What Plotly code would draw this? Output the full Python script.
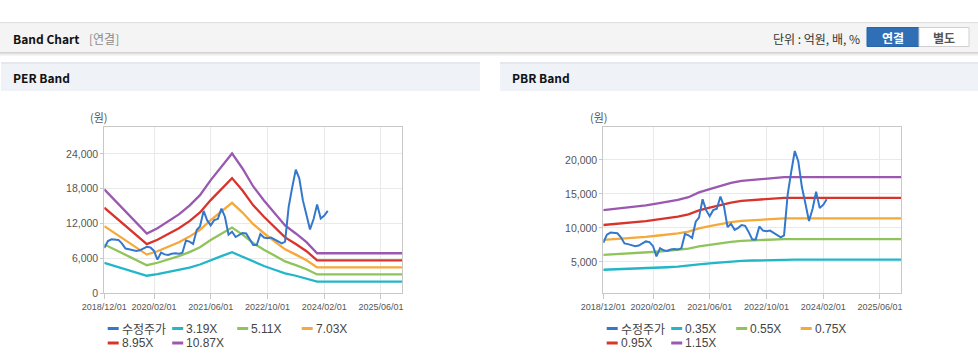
import plotly.graph_objects as go
import pandas as pd

W, H = 978, 361

# ---------------- data ----------------
price_name = "수정주가"
price = [7800, 9000, 9300, 9300, 9200, 8600, 7700, 7600, 7400, 7300, 7400, 7700,
         8000, 7900, 7300, 5800, 7000, 6700, 6600, 6800, 6900, 6800, 7000, 9100,
         8900, 8500, 10900, 11500, 14200, 12600, 11700, 12600, 12800, 14600, 13200, 10100,
         10600, 9700, 10000, 10400, 10300, 9400, 8300, 8300, 10200, 9600, 9500, 9600,
         9300, 8900, 8600, 8900, 14900, 18200, 21300, 19800, 16000, 13500, 11000, 12800,
         15300, 12900, 13400, 14200]
price_dates = pd.date_range("2018-12-01", periods=len(price), freq="MS")

# quarterly EPS (won) and BPS (won)
eps = [1647, 1472, 1297, 1122, 948, 1030, 1141, 1251, 1389, 1555, 1794, 2006, 2217,
       1978, 1693, 1472, 1270, 1076, 948, 810, 635, 635, 635, 635, 635, 635, 635, 635, 635]
bps = [10960, 11090, 11220, 11350, 11570, 11780, 12000, 12260, 12610, 13220, 13650,
       14090, 14430, 14700, 14830, 14960, 15130, 15170, 15170, 15170, 15170, 15170,
       15170, 15170, 15170, 15170, 15170, 15170, 15170]
band_dates = pd.date_range("2018-12-01", periods=len(eps), freq="3MS")

per_mult = [3.19, 5.11, 7.03, 8.95, 10.87]
pbr_mult = [0.35, 0.55, 0.75, 0.95, 1.15]

x_tick_dates = ["2018-12-01", "2020-02-01", "2021-06-01", "2022-10-01", "2024-02-01", "2025-06-01"]
x_tick_text = ["2018/12/01", "2020/02/01", "2021/06/01", "2022/10/01", "2024/02/01", "2025/06/01"]
per_yticks = [0, 6000, 12000, 18000, 24000]
pbr_yticks = [5000, 10000, 15000, 20000]

price_color = "#3478cc"
band_colors = ["#22b6c8", "#8fc45a", "#f5a93a", "#d8342c", "#9a58b0"]

FONT = "Noto Sans CJK KR"


def px(x):
    return x / W


def py(y):
    return 1 - y / H


fig = go.Figure()

# PER traces
for m, c in zip(per_mult, band_colors):
    fig.add_trace(go.Scatter(x=band_dates, y=[e * m for e in eps], mode="lines",
                             line=dict(color=c, width=2.3), name=f"{m:.2f}X",
                             xaxis="x", yaxis="y", showlegend=False, hoverinfo="skip"))
fig.add_trace(go.Scatter(x=price_dates, y=price, mode="lines", line=dict(color=price_color, width=2),
                         name=price_name, xaxis="x", yaxis="y", showlegend=False))
# PBR traces
for m, c in zip(pbr_mult, band_colors):
    fig.add_trace(go.Scatter(x=band_dates, y=[b * m for b in bps], mode="lines",
                             line=dict(color=c, width=2.3), name=f"{m:.2f}X",
                             xaxis="x2", yaxis="y2", showlegend=False, hoverinfo="skip"))
fig.add_trace(go.Scatter(x=price_dates, y=price, mode="lines", line=dict(color=price_color, width=2),
                         name=price_name, xaxis="x2", yaxis="y2", showlegend=False))

axis_common = dict(showgrid=True, gridcolor="#e9e9e9", showline=True, linecolor="#c8c8c8",
                   mirror=True, zeroline=False, automargin=False)
xcommon = dict(type="date", range=["2018-12-01", "2025-12-01"], tickvals=x_tick_dates,
               ticktext=x_tick_text, ticks="outside", ticklen=5, tickcolor="#c8c8c8", tickangle=0,
               tickfont=dict(family="Liberation Sans", size=9, color="#555"), **axis_common)
ycommon = dict(tickformat=",", ticks="outside", ticklen=3, tickcolor="#c8c8c8",
               tickfont=dict(family="Liberation Sans", size=10.5, color="#555"), **axis_common)
ydom = [py(293.3), py(126.7)]

fig.update_layout(
    width=W, height=H, margin=dict(l=0, r=0, t=0, b=0, pad=0, autoexpand=False),
    paper_bgcolor="white", plot_bgcolor="white",
    xaxis=dict(domain=[px(104.3), px(402.3)], anchor="y", **xcommon),
    yaxis=dict(domain=ydom, anchor="x", range=[0, 28700], tickvals=per_yticks, **ycommon),
    xaxis2=dict(domain=[px(603.3), px(901.3)], anchor="y2", **xcommon),
    yaxis2=dict(domain=ydom, anchor="x2", range=[370, 24870], tickvals=pbr_yticks, **ycommon),
    showlegend=False,
)

shapes = []
annos = []


def rect(x0, y0, x1, y1, fill, line=None):
    shapes.append(dict(type="rect", xref="paper", yref="paper", x0=px(x0), x1=px(x1),
                       y0=py(y1), y1=py(y0), fillcolor=fill,
                       line=dict(width=1 if line else 0, color=line or fill), layer="below"))


def text(x, y, s, size=12, color="#333", bold=False, xanchor="left", family=FONT):
    if bold:
        s = f"<b>{s}</b>"
    annos.append(dict(xref="paper", yref="paper", x=px(x), y=py(y), text=s, showarrow=False,
                      xanchor=xanchor, yanchor="middle", font=dict(family=family, size=size, color=color)))


# top header bar
rect(0, 22, W, 23.5, "#e0e0e0")
rect(0, 23.5, W, 52, "#f4f4f4")
for i, c in enumerate(["#d2d2d2", "#e2e2e2", "#ececec", "#f5f5f5"]):
    rect(0, 52 + i, W, 53 + i, c)
text(11, 38, "Band Chart", size=12, color="#111", bold=True)
text(87, 38, "[연결]", size=12, color="#8a8a8a")
text(862, 38, "단위 : 억원, 배, %", size=12, color="#333", xanchor="right")
rect(867, 27.5, 919, 46.5, "#2f6fb6", "#2a64a6")
rect(919, 27.5, 969, 46.5, "#ffffff", "#d0d0d0")
text(893, 37, "연결", size=12, color="white", bold=True, xanchor="center")
text(944, 37, "별도", size=12, color="#555", bold=True, xanchor="center")

# section headers
for x0, x1, title in [(1, 480, "PER Band"), (500, W, "PBR Band")]:
    rect(x0, 62, x1, 64, "#e4e7ec")
    rect(x0, 64, x1, 91, "#eff2f7")
    text(x0 + 10, 78, title, size=12, color="#111", bold=True)

# unit labels
text(99, 117, "(원)", size=11, color="#555", xanchor="center")
text(599, 117, "(원)", size=11, color="#555", xanchor="center")

# legends
legend_names_per = [price_name] + [f"{m:.2f}X" for m in per_mult]
legend_names_pbr = [price_name] + [f"{m:.2f}X" for m in pbr_mult]
legend_colors = [price_color] + band_colors
for base, names in [(107.7, legend_names_per), (606.7, legend_names_pbr)]:
    cols = [0, 64.5, 129.5, 194]
    for i, (n, c) in enumerate(zip(names, legend_colors)):
        row, col = divmod(i, 4)
        x0 = base + cols[col]
        yy = 328.5 + row * 14.5
        shapes.append(dict(type="line", xref="paper", yref="paper", x0=px(x0), x1=px(x0 + 11),
                           y0=py(yy), y1=py(yy), line=dict(color=c, width=3)))
        text(x0 + 12, yy, n, size=12, color="#444",
             family=FONT if n == price_name else "Liberation Sans")

fig.update_layout(shapes=shapes, annotations=annos)
fig.write_html("out.html", config={"displayModeBar": False},
               post_script="document.body.style.margin='0px';document.body.style.padding='0px';")
